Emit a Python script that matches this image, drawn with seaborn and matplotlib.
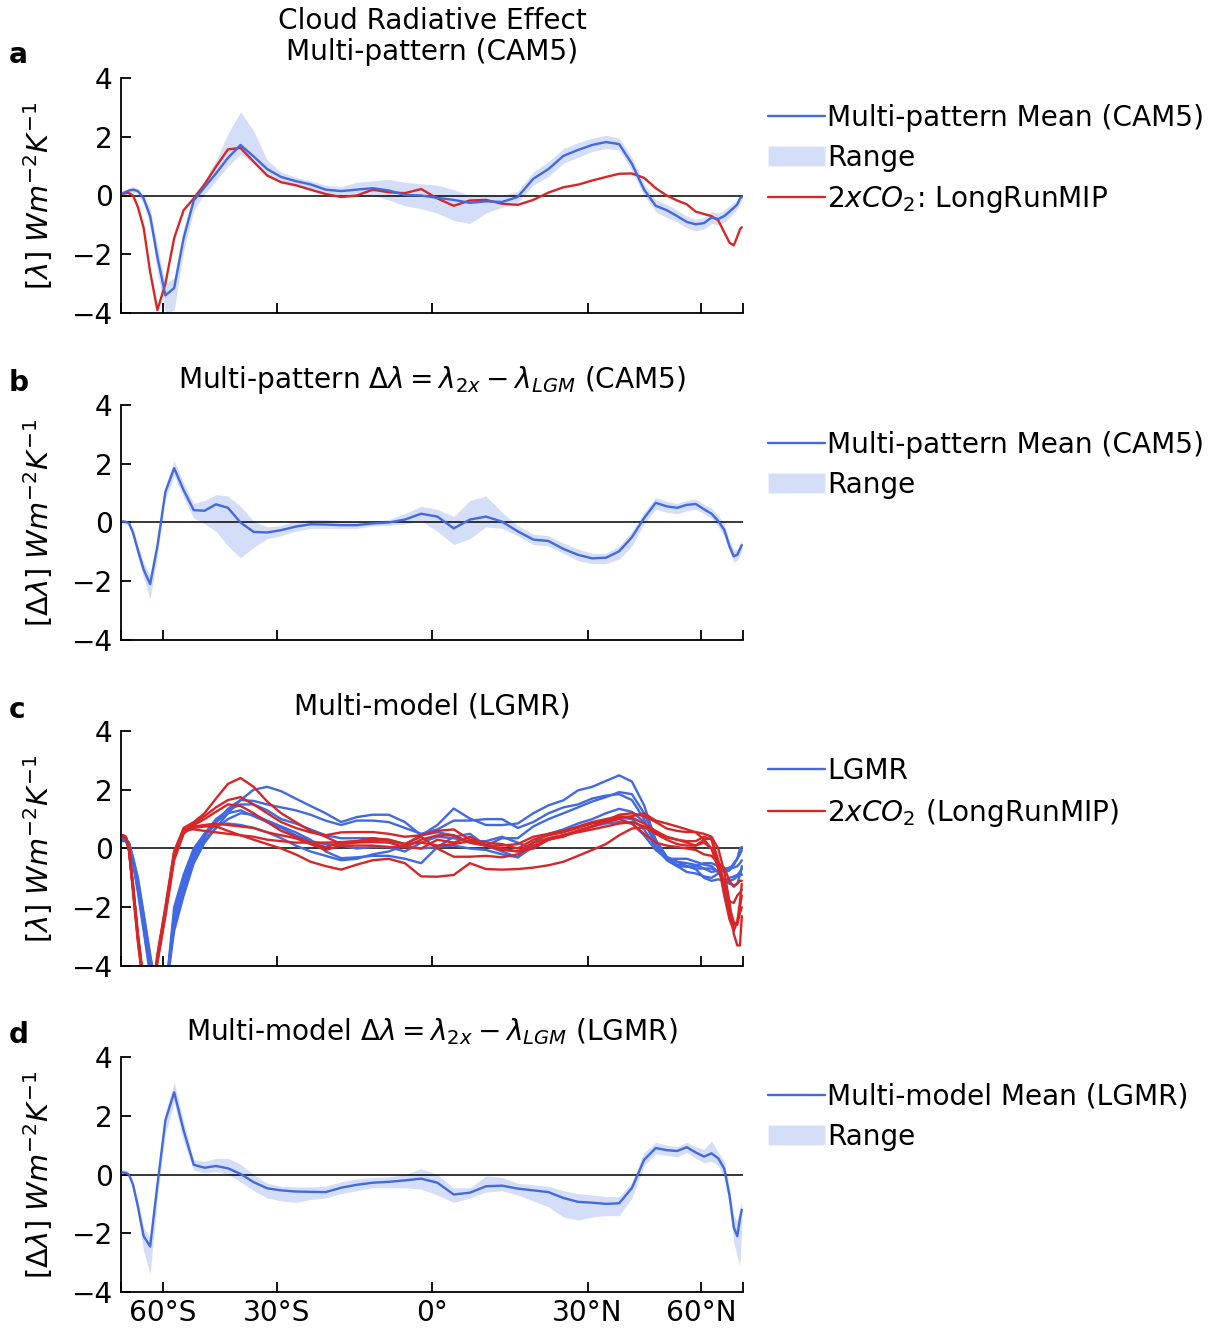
import numpy as np
import pandas as pd
import matplotlib
matplotlib.use("Agg")
import matplotlib.pyplot as plt
import seaborn as sns
from matplotlib.lines import Line2D
from matplotlib.patches import Patch

# ---------------- data (latitude grid in degrees) ----------------
lat = [-84, -80, -77, -74, -71, -68, -65, -62, -59, -56,
       -53, -50, -47, -44, -41, -38, -35, -32, -29, -26,
       -23, -20, -17, -14, -11, -8, -5, -2, 1, 4,
       7, 10, 13, 16, 19, 22, 25, 28, 31, 34,
       37, 40, 43, 46, 49, 52, 55, 58, 61, 64,
       67, 70, 73, 76, 79, 82, 85]

# Panel a: multi-pattern mean (CAM5), range, 2xCO2 LongRunMIP
a_mean = [0.08, 0.12, 0.17, 0.2, 0.15, -0.1, -0.7, -2.1, -3.4, -3.15,
          -1.45, -0.17, 0.28, 0.75, 1.28, 1.72, 1.33, 0.9, 0.63, 0.49,
          0.38, 0.2, 0.15, 0.2, 0.25, 0.17, 0.02, 0.0, -0.08, -0.15,
          -0.25, -0.2, -0.22, -0.05, 0.57, 0.9, 1.35, 1.55, 1.72, 1.82,
          1.75, 1.08, 0.2, -0.35, -0.5, -0.7, -0.9, -0.98, -0.94, -0.75,
          -0.8, -0.7, -0.55, -0.42, -0.3, -0.1, -0.05]
a_upper = [0.15, 0.2, 0.25, 0.3, 0.22, 0.0, -0.45, -1.7, -3.0, -2.8,
           -1.1, 0.05, 0.5, 1.2, 2.1, 2.85, 2.2, 1.2, 0.8, 0.62,
           0.5, 0.35, 0.3, 0.45, 0.5, 0.55, 0.45, 0.4, 0.35, 0.2,
           0.0, 0.0, 0.0, 0.15, 0.8, 1.15, 1.6, 1.8, 1.95, 2.05,
           1.95, 1.3, 0.4, -0.15, -0.3, -0.5, -0.7, -0.8, -0.75, -0.55,
           -0.6, -0.5, -0.35, -0.25, -0.15, 0.0, 0.05]
a_lower = [0.0, 0.05, 0.1, 0.1, 0.05, -0.3, -1.0, -2.6, -4.0, -3.9,
           -1.9, -0.5, 0.05, 0.5, 1.0, 1.4, 1.1, 0.7, 0.5, 0.35,
           0.2, 0.05, -0.05, -0.05, 0.0, -0.15, -0.35, -0.45, -0.6, -0.85,
           -0.95, -0.6, -0.4, -0.25, 0.35, 0.65, 1.1, 1.3, 1.5, 1.6,
           1.55, 0.85, 0.0, -0.55, -0.75, -0.9, -1.1, -1.2, -1.15, -0.95,
           -1.0, -0.9, -0.75, -0.6, -0.45, -0.25, -0.15]
a_co2 = [0.06, 0.08, 0.08, 0.0, -0.4, -1.1, -2.6, -3.9, -3.0, -1.45,
         -0.5, -0.1, 0.38, 0.98, 1.57, 1.62, 1.15, 0.68, 0.45, 0.35,
         0.2, 0.05, -0.05, 0.0, 0.2, 0.11, 0.08, 0.22, -0.1, -0.35,
         -0.17, -0.15, -0.28, -0.32, -0.15, 0.1, 0.28, 0.37, 0.51, 0.63,
         0.74, 0.75, 0.6, 0.25, 0.0, -0.17, -0.3, -0.55, -0.63, -0.7,
         -0.85, -1.25, -1.6, -1.7, -1.4, -1.15, -1.08]

# Panel b: multi-pattern delta lambda (CAM5)
b_mean = [0.04, 0.02, -0.02, -0.35, -0.95, -1.6, -2.1, -0.8, 1.05, 1.85,
          1.1, 0.42, 0.4, 0.62, 0.5, 0.0, -0.32, -0.34, -0.26, -0.14,
          -0.06, -0.07, -0.09, -0.09, -0.03, 0.0, 0.1, 0.3, 0.2, -0.2,
          0.1, 0.2, 0.03, -0.3, -0.58, -0.63, -0.9, -1.1, -1.22, -1.2,
          -0.98, -0.5, 0.15, 0.67, 0.55, 0.5, 0.6, 0.63, 0.45, 0.3,
          0.05, -0.25, -0.8, -1.15, -1.1, -0.9, -0.77]
b_upper = [0.1, 0.08, 0.05, -0.2, -0.75, -1.35, -1.8, -0.55, 1.25, 2.1,
           1.35, 0.65, 0.75, 0.95, 0.9, 0.55, 0.05, -0.15, -0.1, 0.05,
           0.1, 0.1, 0.05, 0.02, 0.05, 0.1, 0.3, 0.55, 0.45, 0.2,
           0.75, 0.9, 0.35, -0.1, -0.4, -0.45, -0.7, -0.9, -1.05, -1.05,
           -0.8, -0.3, 0.35, 0.85, 0.72, 0.65, 0.75, 0.8, 0.62, 0.48,
           0.25, -0.05, -0.6, -0.95, -0.9, -0.7, -0.6]
b_lower = [-0.02, -0.05, -0.1, -0.5, -1.2, -1.9, -2.6, -1.1, 0.8, 1.6,
           0.85, 0.15, -0.05, -0.3, -0.8, -1.2, -0.85, -0.55, -0.45, -0.3,
           -0.2, -0.2, -0.2, -0.2, -0.12, -0.1, -0.05, 0.05, -0.3, -0.75,
           -0.55, -0.15, -0.2, -0.45, -0.75, -0.8, -1.05, -1.3, -1.4, -1.4,
           -1.25, -0.8, -0.05, 0.45, 0.35, 0.3, 0.4, 0.45, 0.3, 0.15,
           -0.15, -0.45, -1.0, -1.35, -1.3, -1.1, -0.95]

# Panel c: individual LGMR models (blue) and LongRunMIP 2xCO2 models (red)
lgmr_1 = [0.3, 0.3, 0.2, -0.3, -1.0, -2.2, -3.6, -5.0, -5.0, -2.8,
          -1.6, -0.5, 0.2, 0.7, 1.2, 1.65, 2.0, 2.1, 1.95, 1.7,
          1.45, 1.2, 0.9, 1.07, 1.15, 1.15, 0.9, 0.45, 0.8, 1.36,
          1.02, 0.8, 0.8, 0.85, 1.2, 1.47, 1.64, 1.98, 2.1, 2.3,
          2.49, 2.28, 1.47, 0.28, -0.28, -0.45, -0.5, -0.56, -0.68, -0.8,
          -0.75, -0.7, -0.65, -0.56, -0.34, 0.0, 0.05]
lgmr_2 = [0.3, 0.3, 0.15, -0.4, -1.2, -2.4, -3.8, -5.0, -5.0, -2.5,
          -1.3, -0.3, 0.4, 0.9, 1.35, 1.65, 1.62, 1.5, 1.4, 1.3,
          1.15, 0.95, 0.8, 0.95, 0.95, 0.9, 0.7, 0.5, 0.65, 0.95,
          0.95, 1.0, 1.0, 0.7, 0.9, 1.2, 1.4, 1.5, 1.7, 1.8,
          1.85, 1.65, 1.0, 0.05, -0.35, -0.6, -0.8, -0.85, -0.95, -1.0,
          -0.85, -0.75, -0.7, -0.65, -0.6, -0.5, -0.4]
lgmr_3 = [0.25, 0.25, 0.1, -0.5, -1.4, -2.7, -4.2, -5.0, -5.0, -2.2,
          -1.0, -0.1, 0.5, 1.0, 1.3, 1.5, 1.5, 1.3, 1.0, 0.85,
          0.65, 0.45, 0.35, 0.35, 0.35, 0.25, 0.15, 0.45, 0.55, 0.45,
          0.2, 0.1, 0.35, 0.35, 0.75, 1.0, 1.2, 1.4, 1.6, 1.75,
          1.92, 1.85, 1.2, 0.3, -0.3, -0.45, -0.6, -0.7, -1.0, -1.1,
          -1.05, -1.1, -1.1, -1.05, -0.95, -0.8, -0.7]
lgmr_4 = [0.3, 0.3, 0.15, -0.4, -1.3, -2.5, -4.0, -5.0, -5.0, -2.6,
          -1.4, -0.4, 0.3, 0.7, 1.0, 1.2, 1.15, 0.95, 0.75, 0.55,
          0.3, -0.1, -0.33, -0.3, -0.25, -0.25, -0.35, -0.5, 0.05, 0.4,
          0.5, 0.1, -0.1, -0.3, 0.2, 0.5, 0.65, 0.85, 1.0, 1.2,
          1.35, 1.25, 0.9, 0.2, -0.35, -0.55, -0.6, -0.68, -0.68, -0.68,
          -0.8, -1.1, -1.0, -0.95, -0.9, -0.8, -0.9]
lgmr_5 = [0.3, 0.25, 0.1, -0.5, -1.5, -2.8, -4.3, -5.0, -5.0, -2.0,
          -0.9, 0.0, 0.5, 0.8, 0.85, 0.8, 0.7, 0.55, 0.35, 0.1,
          -0.1, -0.25, -0.4, -0.35, -0.2, -0.1, 0.1, 0.0, 0.05, 0.1,
          0.0, -0.05, -0.2, -0.3, 0.05, 0.3, 0.45, 0.6, 0.75, 0.95,
          1.05, 1.0, 0.65, 0.05, -0.4, -0.6, -0.62, -0.6, -0.5, -0.5,
          -0.6, -0.8, -0.75, -0.5, -0.35, -0.2, -0.05]
lgmr_6 = [0.3, 0.3, 0.2, -0.35, -1.1, -2.3, -3.7, -5.0, -5.0, -2.4,
          -1.2, -0.2, 0.45, 0.9, 1.2, 1.3, 1.1, 0.9, 0.7, 0.45,
          0.25, 0.15, 0.1, 0.0, 0.05, 0.05, -0.1, 0.2, 0.4, 0.35,
          0.25, 0.25, 0.4, 0.2, 0.0, 0.35, 0.45, 0.6, 0.75, 0.85,
          0.9, 0.85, 0.45, -0.05, -0.35, -0.35, -0.35, -0.45, -0.55, -0.6,
          -0.8, -1.1, -1.2, -1.25, -1.2, -0.9, -0.6]

co2_1 = [0.45, 0.4, 0.0, -1.3, -3.0, -4.6, -5.5, -3.8, -2.2, -0.3,
         0.55, 0.7, 0.75, 0.75, 0.6, 0.45, 0.3, 0.15, 0.0, -0.2,
         -0.45, -0.6, -0.72, -0.55, -0.4, -0.35, -0.5, -0.95, -0.96, -0.9,
         -0.5, -0.7, -0.72, -0.7, -0.65, -0.57, -0.45, -0.25, -0.05, 0.15,
         0.45, 0.68, 0.72, 0.55, 0.38, 0.3, 0.25, 0.25, 0.4, 0.3,
         -0.5, -1.6, -2.4, -2.8, -2.5, -1.8, -1.2]
co2_2 = [0.45, 0.4, 0.0, -1.5, -3.2, -4.8, -5.5, -3.6, -2.0, -0.1,
         0.7, 0.9, 1.2, 1.7, 2.2, 2.4, 2.1, 1.6, 1.2, 0.9,
         0.6, 0.4, 0.15, 0.2, 0.22, 0.2, 0.05, 0.3, 0.45, 0.45,
         0.2, 0.1, 0.0, -0.1, 0.0, 0.3, 0.4, 0.6, 0.75, 0.95,
         1.15, 1.2, 1.1, 0.9, 0.68, 0.6, 0.56, 0.56, 0.5, 0.4,
         0.0, -0.8, -1.8, -2.9, -3.3, -3.3, -2.3]
co2_3 = [0.4, 0.35, -0.1, -1.4, -3.1, -4.7, -5.5, -3.7, -2.1, -0.2,
         0.6, 0.85, 1.1, 1.4, 1.65, 1.75, 1.5, 1.2, 0.9, 0.7,
         0.55, 0.45, 0.55, 0.56, 0.56, 0.5, 0.4, 0.45, 0.6, 0.65,
         0.3, 0.2, 0.15, 0.0, 0.3, 0.45, 0.55, 0.7, 0.85, 0.95,
         1.05, 1.1, 1.2, 0.95, 0.85, 0.75, 0.65, 0.55, 0.3, 0.0,
         -0.5, -1.5, -2.2, -2.6, -2.5, -2.0, -1.6]
co2_4 = [0.45, 0.4, 0.05, -1.2, -2.9, -4.5, -5.5, -3.9, -2.3, -0.4,
         0.5, 0.8, 1.0, 1.25, 1.5, 1.45, 1.2, 0.9, 0.6, 0.4,
         0.2, 0.05, 0.2, 0.25, 0.35, 0.3, 0.15, 0.4, 0.0, -0.28,
         -0.28, -0.25, -0.3, -0.2, 0.1, 0.3, 0.45, 0.55, 0.65, 0.75,
         0.85, 0.9, 0.75, 0.5, 0.3, 0.15, 0.1, 0.1, 0.2, 0.0,
         -0.7, -1.3, -1.8, -1.85, -1.6, -1.5, -1.4]
co2_5 = [0.4, 0.35, -0.05, -1.3, -3.0, -4.6, -5.5, -3.8, -2.2, -0.25,
         0.6, 0.75, 0.8, 0.85, 0.8, 0.75, 0.7, 0.55, 0.45, 0.35,
         0.15, -0.05, 0.1, 0.1, 0.1, 0.05, 0.05, 0.0, 0.3, 0.2,
         0.4, 0.1, -0.05, -0.1, 0.2, 0.35, 0.45, 0.6, 0.75, 0.9,
         1.0, 0.85, 0.5, 0.2, 0.1, 0.05, 0.0, -0.05, -0.2, -0.25,
         -0.5, -0.65, -1.1, -1.3, -1.2, -1.1, -1.1]
co2_6 = [0.45, 0.4, 0.0, -1.4, -3.1, -4.7, -5.5, -3.7, -2.0, -0.1,
         0.65, 0.65, 0.6, 0.55, 0.5, 0.45, 0.4, 0.3, 0.25, 0.2,
         0.2, 0.2, 0.22, 0.25, 0.28, 0.3, 0.15, 0.2, 0.1, 0.15,
         0.25, 0.1, 0.1, 0.15, 0.4, 0.5, 0.6, 0.75, 0.9, 1.0,
         1.1, 1.05, 0.85, 0.6, 0.4, 0.3, 0.2, 0.1, 0.3, 0.35,
         -0.4, -1.2, -2.0, -2.5, -2.6, -2.2, -2.0]

# Panel d: multi-model delta lambda (LGMR)
d_mean = [0.07, 0.06, 0.0, -0.35, -1.1, -2.1, -2.45, -0.35, 1.85, 2.8,
          1.5, 0.33, 0.23, 0.29, 0.21, 0.02, -0.26, -0.47, -0.54, -0.58,
          -0.59, -0.6, -0.45, -0.35, -0.28, -0.25, -0.2, -0.14, -0.28, -0.68,
          -0.62, -0.4, -0.38, -0.48, -0.54, -0.6, -0.8, -0.93, -0.96, -1.0,
          -0.98, -0.46, 0.5, 0.9, 0.83, 0.8, 0.93, 0.75, 0.61, 0.72,
          0.55, 0.2, -0.7, -1.8, -2.1, -1.5, -1.2]
d_upper = [0.12, 0.12, 0.05, -0.25, -0.9, -1.8, -2.15, -0.1, 2.1, 3.15,
           1.8, 0.5, 0.45, 0.55, 0.55, 0.35, 0.0, -0.3, -0.4, -0.42,
           -0.42, -0.4, -0.25, -0.15, -0.1, -0.08, 0.0, 0.2, 0.0, -0.45,
           -0.45, -0.05, -0.1, -0.3, -0.35, -0.4, -0.55, -0.65, -0.7, -0.75,
           -0.75, -0.25, 0.75, 1.1, 1.0, 0.95, 1.1, 0.95, 0.85, 1.15,
           0.75, 0.45, -0.4, -1.4, -1.6, -1.1, -0.9]
d_lower = [0.0, -0.02, -0.1, -0.5, -1.4, -2.6, -3.4, -0.8, 1.4, 2.45,
           1.1, 0.15, 0.05, 0.1, 0.0, -0.25, -0.55, -0.8, -0.9, -0.95,
           -0.85, -0.8, -0.65, -0.55, -0.45, -0.45, -0.45, -0.5, -0.7, -0.95,
           -0.8, -0.6, -0.55, -0.7, -0.9, -1.1, -1.45, -1.55, -1.45, -1.4,
           -1.4, -0.8, 0.3, 0.7, 0.65, 0.6, 0.75, 0.55, 0.4, 0.45,
           0.3, -0.1, -1.0, -2.3, -2.8, -3.1, -1.8]

tick_lats = [-90, -60, -30, 0, 30, 60, 90]
tick_labels = ["", "60°S", "30°S", "0°", "30°N", "60°N", ""]
yticks = [-4, -2, 0, 2, 4]

# ---------------- style ----------------
sns.set_theme(style="ticks")
plt.rcParams["font.family"] = ["DejaVu Sans"]
plt.rcParams["mathtext.fontset"] = "dejavusans"
plt.rcParams["text.color"] = "black"
plt.rcParams["axes.labelcolor"] = "black"
plt.rcParams["xtick.color"] = "black"
plt.rcParams["ytick.color"] = "black"

BLUE = "#4169e1"
RED = "#d62728"
FS = 20.2
LW = 1.7

fig = plt.figure(figsize=(12.15, 13.29), dpi=100)
W, H = 1215.0, 1329.0
left = 121 / W
width = 622 / W
tops = [78, 405, 731, 1057]
ax_h = 235

xs = np.sin(np.deg2rad(np.array(lat, dtype=float)))


def make_ax(top):
    return fig.add_axes([left, 1 - (top + ax_h) / H, width, ax_h / H])


def style(ax, ylabel, show_x):
    ax.set_xlim(-1, 1)
    ax.set_ylim(-4, 4)
    ax.axhline(0, color="black", lw=1.1, zorder=1.5)
    ax.set_xticks(np.sin(np.deg2rad(tick_lats)))
    ax.set_xticklabels(tick_labels if show_x else [""] * len(tick_labels))
    ax.set_yticks(yticks)
    ax.tick_params(axis="both", direction="in", length=7, width=1.3,
                   labelsize=FS, colors="black")
    ax.tick_params(axis="y", pad=6)
    ax.tick_params(axis="x", pad=5)
    for s in ["top", "right"]:
        ax.spines[s].set_visible(False)
    for s in ["left", "bottom"]:
        ax.spines[s].set_linewidth(1.3)
        ax.spines[s].set_color("black")
    ax.set_xlabel("")
    ax.set_ylabel(ylabel, fontsize=20.8, color="black")
    ax.yaxis.set_label_coords(-0.106, 0.5)
    ax.title.set_color("black")


def add_legend(ax, handles):
    ax.legend(handles=handles, loc="upper left", bbox_to_anchor=(1.04, 0.89),
              frameon=False, fontsize=FS, handlelength=2.05, handletextpad=0.05,
              borderaxespad=0, borderpad=0, labelspacing=0.43)


ylab = r"[$\lambda$] $Wm^{-2}K^{-1}$"
ylab_d = r"[$\Delta\lambda$] $Wm^{-2}K^{-1}$"

# ---- panel a ----
ax = make_ax(tops[0])
ax.fill_between(xs, a_lower, a_upper, color=BLUE, alpha=0.22, lw=0, zorder=1)
sns.lineplot(x=xs, y=a_mean, ax=ax, color=BLUE, lw=LW, sort=False, zorder=3)
sns.lineplot(x=xs, y=a_co2, ax=ax, color=RED, lw=LW, sort=False, zorder=2)
style(ax, ylab, False)
ax.set_title("Cloud Radiative Effect\nMulti-pattern (CAM5)", fontsize=FS, pad=13,
             linespacing=1.15, color="black")
add_legend(ax, [Line2D([], [], color=BLUE, lw=LW, label="Multi-pattern Mean (CAM5)"),
                Patch(facecolor=BLUE, alpha=0.22, label="Range"),
                Line2D([], [], color=RED, lw=LW, label=r"$2xCO_2$: LongRunMIP")])

# ---- panel b ----
ax = make_ax(tops[1])
ax.fill_between(xs, b_lower, b_upper, color=BLUE, alpha=0.22, lw=0, zorder=1)
sns.lineplot(x=xs, y=b_mean, ax=ax, color=BLUE, lw=LW, sort=False, zorder=3)
style(ax, ylab_d, False)
ax.set_title(r"Multi-pattern $\Delta\lambda = \lambda_{2x} - \lambda_{LGM}$ (CAM5)",
             fontsize=FS, pad=12, color="black")
add_legend(ax, [Line2D([], [], color=BLUE, lw=LW, label="Multi-pattern Mean (CAM5)"),
                Patch(facecolor=BLUE, alpha=0.22, label="Range")])

# ---- panel c ----
ax = make_ax(tops[2])
lgmr = [lgmr_1, lgmr_2, lgmr_3, lgmr_4, lgmr_5, lgmr_6]
co2 = [co2_1, co2_2, co2_3, co2_4, co2_5, co2_6]
rows = []
for i, s in enumerate(lgmr):
    for xv, yv in zip(xs, s):
        rows.append(("LGMR", f"lgmr{i}", xv, yv))
for i, s in enumerate(co2):
    for xv, yv in zip(xs, s):
        rows.append(("CO2", f"co2{i}", xv, yv))
dfc = pd.DataFrame(rows, columns=["group", "model", "x", "y"])
sns.lineplot(data=dfc, x="x", y="y", hue="group", units="model", estimator=None,
             palette={"LGMR": BLUE, "CO2": RED}, lw=LW, sort=False, legend=False,
             ax=ax, zorder=2)
style(ax, ylab, False)
ax.set_title("Multi-model (LGMR)", fontsize=FS, pad=12, color="black")
add_legend(ax, [Line2D([], [], color=BLUE, lw=LW, label="LGMR"),
                Line2D([], [], color=RED, lw=LW, label=r"$2xCO_2$ (LongRunMIP)")])

# ---- panel d ----
ax = make_ax(tops[3])
ax.fill_between(xs, d_lower, d_upper, color=BLUE, alpha=0.22, lw=0, zorder=1)
sns.lineplot(x=xs, y=d_mean, ax=ax, color=BLUE, lw=LW, sort=False, zorder=3)
style(ax, ylab_d, True)
ax.set_title(r"Multi-model $\Delta\lambda = \lambda_{2x} - \lambda_{LGM}$ (LGMR)",
             fontsize=FS, pad=12, color="black")
add_legend(ax, [Line2D([], [], color=BLUE, lw=LW, label="Multi-model Mean (LGMR)"),
                Patch(facecolor=BLUE, alpha=0.22, label="Range")])

# panel letters
for letter, ypx in zip(["a", "b", "c", "d"], [55, 383, 710, 1035]):
    fig.text(9 / W, 1 - ypx / H, letter, fontsize=FS, fontweight="bold",
             va="center", ha="left", color="black")

fig.savefig("out.png", dpi=100)
